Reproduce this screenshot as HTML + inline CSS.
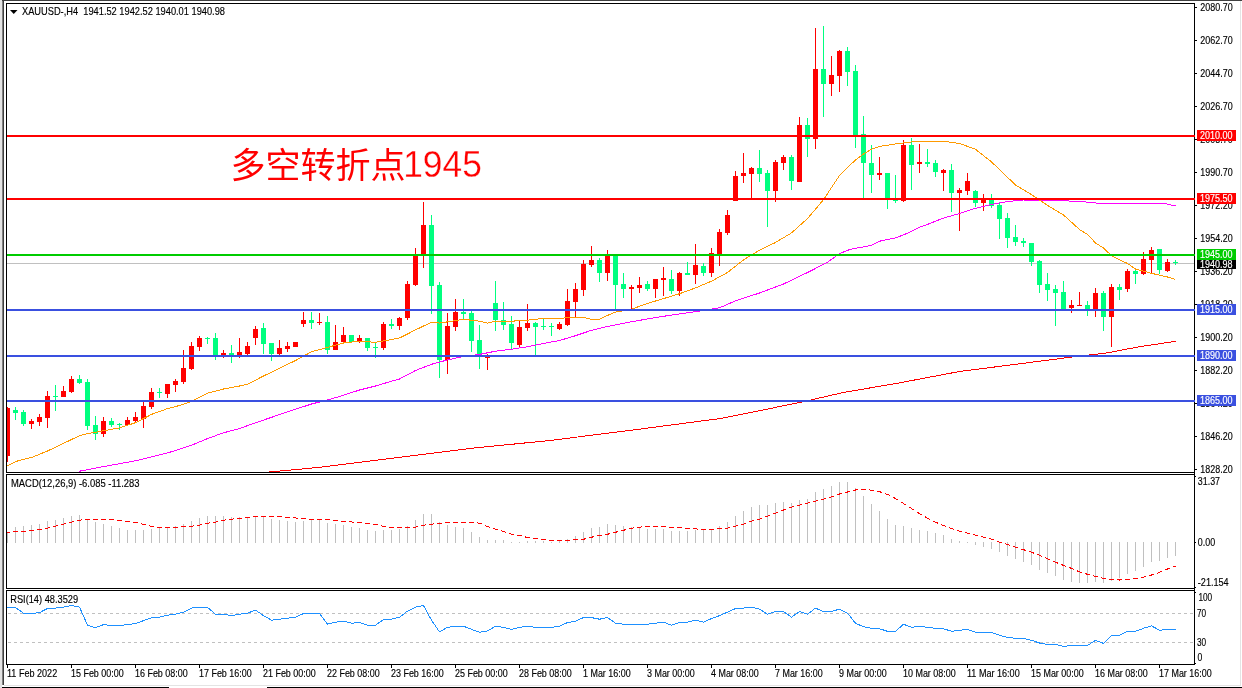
<!DOCTYPE html><html><head><meta charset="utf-8"><title>XAUUSD H4</title>
<style>html,body{margin:0;padding:0;background:#fff}svg{display:block;will-change:transform}text{font-family:"Liberation Sans","Noto Sans CJK SC",sans-serif;font-size:10.2px;fill:#000;stroke:#000;stroke-width:.15px}.w{fill:#fff;stroke:#fff;stroke-width:.15px}.big{font-size:35px;fill:#ff0000;stroke:none;font-weight:400;font-family:"Liberation Sans","Noto Sans CJK SC",sans-serif}</style></head><body>
<svg width="1242" height="688" viewBox="0 0 1242 688">
<rect x="0" y="0" width="1242" height="688" fill="#fff"/>
<g shape-rendering="crispEdges">
<rect x="0" y="0" width="2" height="688" fill="#e4e4e4"/>
<rect x="2" y="0" width="1" height="685" fill="#808080"/>
<rect x="3" y="0" width="1" height="685" fill="#404040"/>
<rect x="2" y="0" width="1240" height="1" fill="#404040"/>
<rect x="1240" y="1" width="1" height="685" fill="#e4e4e4"/>
<rect x="4" y="685" width="1237" height="1" fill="#e4e4e4"/>
<rect x="2" y="687" width="167" height="1" fill="#000"/>
<rect x="267" y="687" width="975" height="1" fill="#000"/>
<rect x="6" y="3" width="1189" height="1" fill="#000"/>
<rect x="6" y="472" width="1189" height="1" fill="#000"/>
<rect x="6" y="3" width="1" height="470" fill="#000"/>
<rect x="6" y="474" width="1189" height="1" fill="#000"/>
<rect x="6" y="588" width="1189" height="1" fill="#000"/>
<rect x="6" y="474" width="1" height="115" fill="#000"/>
<rect x="6" y="590" width="1189" height="1" fill="#000"/>
<rect x="6" y="664" width="1189" height="1" fill="#000"/>
<rect x="6" y="590" width="1" height="75" fill="#000"/>
<rect x="1194" y="3" width="1" height="662" fill="#000"/>
<rect x="1195" y="7" width="2" height="1" fill="#000"/>
<rect x="1195" y="40" width="2" height="1" fill="#000"/>
<rect x="1195" y="73" width="2" height="1" fill="#000"/>
<rect x="1195" y="106" width="2" height="1" fill="#000"/>
<rect x="1195" y="139" width="2" height="1" fill="#000"/>
<rect x="1195" y="172" width="2" height="1" fill="#000"/>
<rect x="1195" y="205" width="2" height="1" fill="#000"/>
<rect x="1195" y="238" width="2" height="1" fill="#000"/>
<rect x="1195" y="271" width="2" height="1" fill="#000"/>
<rect x="1195" y="304" width="2" height="1" fill="#000"/>
<rect x="1195" y="337" width="2" height="1" fill="#000"/>
<rect x="1195" y="370" width="2" height="1" fill="#000"/>
<rect x="1195" y="403" width="2" height="1" fill="#000"/>
<rect x="1195" y="436" width="2" height="1" fill="#000"/>
<rect x="1195" y="469" width="2" height="1" fill="#000"/>
<rect x="1195" y="476" width="1" height="1" fill="#000"/>
<rect x="1195" y="542" width="1" height="1" fill="#000"/>
<rect x="1195" y="587" width="1" height="1" fill="#000"/>
<rect x="1195" y="592" width="1" height="1" fill="#000"/>
<rect x="1195" y="663" width="1" height="1" fill="#000"/>
<rect x="7" y="665" width="1" height="3" fill="#000"/>
<rect x="71" y="665" width="1" height="3" fill="#000"/>
<rect x="135" y="665" width="1" height="3" fill="#000"/>
<rect x="199" y="665" width="1" height="3" fill="#000"/>
<rect x="263" y="665" width="1" height="3" fill="#000"/>
<rect x="327" y="665" width="1" height="3" fill="#000"/>
<rect x="391" y="665" width="1" height="3" fill="#000"/>
<rect x="455" y="665" width="1" height="3" fill="#000"/>
<rect x="519" y="665" width="1" height="3" fill="#000"/>
<rect x="583" y="665" width="1" height="3" fill="#000"/>
<rect x="647" y="665" width="1" height="3" fill="#000"/>
<rect x="711" y="665" width="1" height="3" fill="#000"/>
<rect x="775" y="665" width="1" height="3" fill="#000"/>
<rect x="839" y="665" width="1" height="3" fill="#000"/>
<rect x="903" y="665" width="1" height="3" fill="#000"/>
<rect x="967" y="665" width="1" height="3" fill="#000"/>
<rect x="1031" y="665" width="1" height="3" fill="#000"/>
<rect x="1095" y="665" width="1" height="3" fill="#000"/>
<rect x="1159" y="665" width="1" height="3" fill="#000"/>
</g>
<defs><clipPath id="c1"><rect x="7" y="4" width="1187" height="468"/></clipPath><clipPath id="c2"><rect x="7" y="475" width="1187" height="113"/></clipPath><clipPath id="c3"><rect x="7" y="591" width="1187" height="73"/></clipPath></defs>
<g shape-rendering="crispEdges" clip-path="url(#c1)">
<rect x="7" y="263" width="1187" height="1" fill="#c0c0c0"/>
<rect x="7" y="407" width="1" height="55" fill="#ff0000"/>
<rect x="5" y="408" width="5" height="48" fill="#ff0000"/>
<rect x="15" y="407" width="1" height="13" fill="#00ff7f"/>
<rect x="13" y="410" width="5" height="3" fill="#00ff7f"/>
<rect x="23" y="410" width="1" height="16" fill="#00ff7f"/>
<rect x="21" y="412" width="5" height="12" fill="#00ff7f"/>
<rect x="31" y="419" width="1" height="10" fill="#ff0000"/>
<rect x="29" y="421" width="5" height="3" fill="#ff0000"/>
<rect x="39" y="414" width="1" height="12" fill="#ff0000"/>
<rect x="37" y="417" width="5" height="5" fill="#ff0000"/>
<rect x="47" y="391" width="1" height="37" fill="#ff0000"/>
<rect x="45" y="396" width="5" height="22" fill="#ff0000"/>
<rect x="55" y="385" width="1" height="26" fill="#00ff7f"/>
<rect x="53" y="396" width="5" height="1" fill="#00ff7f"/>
<rect x="63" y="386" width="1" height="11" fill="#ff0000"/>
<rect x="61" y="391" width="5" height="6" fill="#ff0000"/>
<rect x="71" y="376" width="1" height="17" fill="#ff0000"/>
<rect x="69" y="379" width="5" height="13" fill="#ff0000"/>
<rect x="79" y="375" width="1" height="9" fill="#00ff7f"/>
<rect x="77" y="379" width="5" height="4" fill="#00ff7f"/>
<rect x="87" y="379" width="1" height="51" fill="#00ff7f"/>
<rect x="85" y="382" width="5" height="44" fill="#00ff7f"/>
<rect x="95" y="416" width="1" height="24" fill="#00ff7f"/>
<rect x="93" y="425" width="5" height="9" fill="#00ff7f"/>
<rect x="103" y="417" width="1" height="20" fill="#ff0000"/>
<rect x="101" y="421" width="5" height="13" fill="#ff0000"/>
<rect x="111" y="418" width="1" height="9" fill="#00ff7f"/>
<rect x="109" y="421" width="5" height="4" fill="#00ff7f"/>
<rect x="119" y="423" width="1" height="7" fill="#00ff7f"/>
<rect x="117" y="424" width="5" height="1" fill="#00ff7f"/>
<rect x="127" y="417" width="1" height="8" fill="#ff0000"/>
<rect x="125" y="420" width="5" height="5" fill="#ff0000"/>
<rect x="135" y="412" width="1" height="10" fill="#ff0000"/>
<rect x="133" y="417" width="5" height="4" fill="#ff0000"/>
<rect x="143" y="402" width="1" height="26" fill="#ff0000"/>
<rect x="141" y="406" width="5" height="13" fill="#ff0000"/>
<rect x="151" y="388" width="1" height="21" fill="#ff0000"/>
<rect x="149" y="392" width="5" height="15" fill="#ff0000"/>
<rect x="159" y="388" width="1" height="10" fill="#00ff7f"/>
<rect x="157" y="392" width="5" height="1" fill="#00ff7f"/>
<rect x="167" y="384" width="1" height="14" fill="#ff0000"/>
<rect x="165" y="384" width="5" height="10" fill="#ff0000"/>
<rect x="175" y="379" width="1" height="13" fill="#ff0000"/>
<rect x="173" y="381" width="5" height="4" fill="#ff0000"/>
<rect x="183" y="350" width="1" height="34" fill="#ff0000"/>
<rect x="181" y="368" width="5" height="14" fill="#ff0000"/>
<rect x="191" y="342" width="1" height="28" fill="#ff0000"/>
<rect x="189" y="346" width="5" height="23" fill="#ff0000"/>
<rect x="199" y="336" width="1" height="15" fill="#ff0000"/>
<rect x="197" y="338" width="5" height="9" fill="#ff0000"/>
<rect x="207" y="337" width="1" height="7" fill="#00ff7f"/>
<rect x="205" y="338" width="5" height="1" fill="#00ff7f"/>
<rect x="215" y="333" width="1" height="27" fill="#00ff7f"/>
<rect x="213" y="338" width="5" height="17" fill="#00ff7f"/>
<rect x="223" y="350" width="1" height="8" fill="#ff0000"/>
<rect x="221" y="353" width="5" height="2" fill="#ff0000"/>
<rect x="231" y="345" width="1" height="18" fill="#00ff7f"/>
<rect x="229" y="353" width="5" height="2" fill="#00ff7f"/>
<rect x="239" y="338" width="1" height="20" fill="#ff0000"/>
<rect x="237" y="352" width="5" height="3" fill="#ff0000"/>
<rect x="247" y="342" width="1" height="13" fill="#ff0000"/>
<rect x="245" y="346" width="5" height="8" fill="#ff0000"/>
<rect x="255" y="326" width="1" height="19" fill="#ff0000"/>
<rect x="253" y="329" width="5" height="9" fill="#ff0000"/>
<rect x="263" y="323" width="1" height="31" fill="#00ff7f"/>
<rect x="261" y="328" width="5" height="16" fill="#00ff7f"/>
<rect x="271" y="343" width="1" height="18" fill="#00ff7f"/>
<rect x="269" y="343" width="5" height="11" fill="#00ff7f"/>
<rect x="279" y="340" width="1" height="15" fill="#ff0000"/>
<rect x="277" y="348" width="5" height="6" fill="#ff0000"/>
<rect x="287" y="342" width="1" height="10" fill="#ff0000"/>
<rect x="285" y="346" width="5" height="3" fill="#ff0000"/>
<rect x="295" y="342" width="1" height="5" fill="#ff0000"/>
<rect x="293" y="342" width="5" height="5" fill="#ff0000"/>
<rect x="303" y="312" width="1" height="15" fill="#ff0000"/>
<rect x="301" y="320" width="5" height="4" fill="#ff0000"/>
<rect x="311" y="312" width="1" height="17" fill="#00ff7f"/>
<rect x="309" y="320" width="5" height="3" fill="#00ff7f"/>
<rect x="319" y="313" width="1" height="12" fill="#ff0000"/>
<rect x="317" y="322" width="5" height="1" fill="#ff0000"/>
<rect x="327" y="316" width="1" height="38" fill="#00ff7f"/>
<rect x="325" y="322" width="5" height="28" fill="#00ff7f"/>
<rect x="335" y="325" width="1" height="25" fill="#ff0000"/>
<rect x="333" y="342" width="5" height="8" fill="#ff0000"/>
<rect x="343" y="327" width="1" height="16" fill="#ff0000"/>
<rect x="341" y="335" width="5" height="7" fill="#ff0000"/>
<rect x="351" y="335" width="1" height="7" fill="#00ff7f"/>
<rect x="349" y="335" width="5" height="7" fill="#00ff7f"/>
<rect x="359" y="335" width="1" height="8" fill="#ff0000"/>
<rect x="357" y="338" width="5" height="3" fill="#ff0000"/>
<rect x="367" y="338" width="1" height="13" fill="#00ff7f"/>
<rect x="365" y="338" width="5" height="10" fill="#00ff7f"/>
<rect x="375" y="343" width="1" height="15" fill="#00ff7f"/>
<rect x="373" y="347" width="5" height="1" fill="#00ff7f"/>
<rect x="383" y="322" width="1" height="28" fill="#ff0000"/>
<rect x="381" y="324" width="5" height="24" fill="#ff0000"/>
<rect x="391" y="319" width="1" height="10" fill="#00ff7f"/>
<rect x="389" y="324" width="5" height="2" fill="#00ff7f"/>
<rect x="399" y="317" width="1" height="13" fill="#ff0000"/>
<rect x="397" y="318" width="5" height="8" fill="#ff0000"/>
<rect x="407" y="281" width="1" height="39" fill="#ff0000"/>
<rect x="405" y="284" width="5" height="34" fill="#ff0000"/>
<rect x="415" y="248" width="1" height="38" fill="#ff0000"/>
<rect x="413" y="256" width="5" height="29" fill="#ff0000"/>
<rect x="423" y="202" width="1" height="66" fill="#ff0000"/>
<rect x="421" y="225" width="5" height="30" fill="#ff0000"/>
<rect x="431" y="215" width="1" height="99" fill="#00ff7f"/>
<rect x="429" y="225" width="5" height="61" fill="#00ff7f"/>
<rect x="439" y="282" width="1" height="96" fill="#00ff7f"/>
<rect x="437" y="285" width="5" height="75" fill="#00ff7f"/>
<rect x="447" y="313" width="1" height="61" fill="#ff0000"/>
<rect x="445" y="326" width="5" height="34" fill="#ff0000"/>
<rect x="455" y="299" width="1" height="32" fill="#ff0000"/>
<rect x="453" y="312" width="5" height="15" fill="#ff0000"/>
<rect x="463" y="299" width="1" height="20" fill="#00ff7f"/>
<rect x="461" y="312" width="5" height="2" fill="#00ff7f"/>
<rect x="471" y="311" width="1" height="41" fill="#00ff7f"/>
<rect x="469" y="313" width="5" height="28" fill="#00ff7f"/>
<rect x="479" y="325" width="1" height="44" fill="#00ff7f"/>
<rect x="477" y="340" width="5" height="17" fill="#00ff7f"/>
<rect x="487" y="354" width="1" height="16" fill="#ff0000"/>
<rect x="485" y="357" width="5" height="1" fill="#ff0000"/>
<rect x="495" y="281" width="1" height="50" fill="#00ff7f"/>
<rect x="493" y="303" width="5" height="17" fill="#00ff7f"/>
<rect x="503" y="302" width="1" height="28" fill="#00ff7f"/>
<rect x="501" y="320" width="5" height="5" fill="#00ff7f"/>
<rect x="511" y="316" width="1" height="34" fill="#00ff7f"/>
<rect x="509" y="324" width="5" height="19" fill="#00ff7f"/>
<rect x="519" y="321" width="1" height="27" fill="#ff0000"/>
<rect x="517" y="327" width="5" height="18" fill="#ff0000"/>
<rect x="527" y="304" width="1" height="27" fill="#ff0000"/>
<rect x="525" y="323" width="5" height="5" fill="#ff0000"/>
<rect x="535" y="322" width="1" height="33" fill="#00ff7f"/>
<rect x="533" y="323" width="5" height="4" fill="#00ff7f"/>
<rect x="543" y="319" width="1" height="11" fill="#00ff7f"/>
<rect x="541" y="326" width="5" height="1" fill="#00ff7f"/>
<rect x="551" y="323" width="1" height="13" fill="#00ff7f"/>
<rect x="549" y="326" width="5" height="1" fill="#00ff7f"/>
<rect x="559" y="322" width="1" height="8" fill="#ff0000"/>
<rect x="557" y="324" width="5" height="5" fill="#ff0000"/>
<rect x="567" y="289" width="1" height="37" fill="#ff0000"/>
<rect x="565" y="301" width="5" height="24" fill="#ff0000"/>
<rect x="575" y="283" width="1" height="34" fill="#ff0000"/>
<rect x="573" y="289" width="5" height="13" fill="#ff0000"/>
<rect x="583" y="260" width="1" height="36" fill="#ff0000"/>
<rect x="581" y="264" width="5" height="26" fill="#ff0000"/>
<rect x="591" y="246" width="1" height="21" fill="#ff0000"/>
<rect x="589" y="260" width="5" height="5" fill="#ff0000"/>
<rect x="599" y="258" width="1" height="24" fill="#00ff7f"/>
<rect x="597" y="260" width="5" height="13" fill="#00ff7f"/>
<rect x="607" y="250" width="1" height="31" fill="#ff0000"/>
<rect x="605" y="256" width="5" height="17" fill="#ff0000"/>
<rect x="615" y="256" width="1" height="55" fill="#00ff7f"/>
<rect x="613" y="256" width="5" height="29" fill="#00ff7f"/>
<rect x="623" y="273" width="1" height="25" fill="#00ff7f"/>
<rect x="621" y="284" width="5" height="5" fill="#00ff7f"/>
<rect x="631" y="285" width="1" height="24" fill="#ff0000"/>
<rect x="629" y="287" width="5" height="2" fill="#ff0000"/>
<rect x="639" y="277" width="1" height="16" fill="#ff0000"/>
<rect x="637" y="285" width="5" height="3" fill="#ff0000"/>
<rect x="647" y="281" width="1" height="10" fill="#00ff7f"/>
<rect x="645" y="284" width="5" height="5" fill="#00ff7f"/>
<rect x="655" y="279" width="1" height="19" fill="#ff0000"/>
<rect x="653" y="279" width="5" height="10" fill="#ff0000"/>
<rect x="663" y="267" width="1" height="29" fill="#ff0000"/>
<rect x="661" y="278" width="5" height="2" fill="#ff0000"/>
<rect x="671" y="270" width="1" height="24" fill="#00ff7f"/>
<rect x="669" y="279" width="5" height="12" fill="#00ff7f"/>
<rect x="679" y="272" width="1" height="24" fill="#ff0000"/>
<rect x="677" y="273" width="5" height="18" fill="#ff0000"/>
<rect x="687" y="262" width="1" height="13" fill="#00ff7f"/>
<rect x="685" y="273" width="5" height="2" fill="#00ff7f"/>
<rect x="695" y="244" width="1" height="40" fill="#ff0000"/>
<rect x="693" y="265" width="5" height="10" fill="#ff0000"/>
<rect x="703" y="263" width="1" height="13" fill="#00ff7f"/>
<rect x="701" y="266" width="5" height="7" fill="#00ff7f"/>
<rect x="711" y="248" width="1" height="29" fill="#ff0000"/>
<rect x="709" y="253" width="5" height="20" fill="#ff0000"/>
<rect x="719" y="229" width="1" height="37" fill="#ff0000"/>
<rect x="717" y="232" width="5" height="22" fill="#ff0000"/>
<rect x="727" y="210" width="1" height="25" fill="#ff0000"/>
<rect x="725" y="215" width="5" height="18" fill="#ff0000"/>
<rect x="735" y="171" width="1" height="30" fill="#ff0000"/>
<rect x="733" y="176" width="5" height="25" fill="#ff0000"/>
<rect x="743" y="153" width="1" height="30" fill="#ff0000"/>
<rect x="741" y="173" width="5" height="3" fill="#ff0000"/>
<rect x="751" y="167" width="1" height="32" fill="#ff0000"/>
<rect x="749" y="168" width="5" height="6" fill="#ff0000"/>
<rect x="759" y="150" width="1" height="32" fill="#00ff7f"/>
<rect x="757" y="168" width="5" height="6" fill="#00ff7f"/>
<rect x="767" y="170" width="1" height="57" fill="#00ff7f"/>
<rect x="765" y="173" width="5" height="18" fill="#00ff7f"/>
<rect x="775" y="160" width="1" height="42" fill="#ff0000"/>
<rect x="773" y="162" width="5" height="29" fill="#ff0000"/>
<rect x="783" y="155" width="1" height="15" fill="#ff0000"/>
<rect x="781" y="157" width="5" height="6" fill="#ff0000"/>
<rect x="791" y="155" width="1" height="35" fill="#00ff7f"/>
<rect x="789" y="157" width="5" height="24" fill="#00ff7f"/>
<rect x="799" y="117" width="1" height="65" fill="#ff0000"/>
<rect x="797" y="125" width="5" height="57" fill="#ff0000"/>
<rect x="807" y="118" width="1" height="39" fill="#00ff7f"/>
<rect x="805" y="125" width="5" height="14" fill="#00ff7f"/>
<rect x="815" y="28" width="1" height="121" fill="#ff0000"/>
<rect x="813" y="69" width="5" height="70" fill="#ff0000"/>
<rect x="823" y="26" width="1" height="91" fill="#00ff7f"/>
<rect x="821" y="69" width="5" height="15" fill="#00ff7f"/>
<rect x="831" y="56" width="1" height="40" fill="#ff0000"/>
<rect x="829" y="75" width="5" height="9" fill="#ff0000"/>
<rect x="839" y="50" width="1" height="42" fill="#ff0000"/>
<rect x="837" y="51" width="5" height="25" fill="#ff0000"/>
<rect x="847" y="47" width="1" height="39" fill="#00ff7f"/>
<rect x="845" y="51" width="5" height="21" fill="#00ff7f"/>
<rect x="855" y="65" width="1" height="83" fill="#00ff7f"/>
<rect x="853" y="71" width="5" height="64" fill="#00ff7f"/>
<rect x="863" y="116" width="1" height="82" fill="#00ff7f"/>
<rect x="861" y="134" width="5" height="29" fill="#00ff7f"/>
<rect x="871" y="145" width="1" height="48" fill="#00ff7f"/>
<rect x="869" y="163" width="5" height="12" fill="#00ff7f"/>
<rect x="879" y="157" width="1" height="23" fill="#ff0000"/>
<rect x="877" y="173" width="5" height="2" fill="#ff0000"/>
<rect x="887" y="173" width="1" height="36" fill="#00ff7f"/>
<rect x="885" y="173" width="5" height="25" fill="#00ff7f"/>
<rect x="895" y="175" width="1" height="28" fill="#00ff7f"/>
<rect x="893" y="200" width="5" height="1" fill="#00ff7f"/>
<rect x="903" y="140" width="1" height="62" fill="#ff0000"/>
<rect x="901" y="145" width="5" height="56" fill="#ff0000"/>
<rect x="911" y="138" width="1" height="52" fill="#00ff7f"/>
<rect x="909" y="145" width="5" height="20" fill="#00ff7f"/>
<rect x="919" y="144" width="1" height="29" fill="#ff0000"/>
<rect x="917" y="162" width="5" height="2" fill="#ff0000"/>
<rect x="927" y="149" width="1" height="18" fill="#00ff7f"/>
<rect x="925" y="162" width="5" height="2" fill="#00ff7f"/>
<rect x="935" y="160" width="1" height="17" fill="#00ff7f"/>
<rect x="933" y="163" width="5" height="9" fill="#00ff7f"/>
<rect x="943" y="169" width="1" height="22" fill="#ff0000"/>
<rect x="941" y="170" width="5" height="3" fill="#ff0000"/>
<rect x="951" y="164" width="1" height="48" fill="#00ff7f"/>
<rect x="949" y="170" width="5" height="23" fill="#00ff7f"/>
<rect x="959" y="188" width="1" height="43" fill="#ff0000"/>
<rect x="957" y="190" width="5" height="3" fill="#ff0000"/>
<rect x="967" y="173" width="1" height="22" fill="#ff0000"/>
<rect x="965" y="181" width="5" height="10" fill="#ff0000"/>
<rect x="975" y="190" width="1" height="17" fill="#00ff7f"/>
<rect x="973" y="191" width="5" height="12" fill="#00ff7f"/>
<rect x="983" y="194" width="1" height="17" fill="#ff0000"/>
<rect x="981" y="199" width="5" height="4" fill="#ff0000"/>
<rect x="991" y="194" width="1" height="14" fill="#00ff7f"/>
<rect x="989" y="199" width="5" height="7" fill="#00ff7f"/>
<rect x="999" y="203" width="1" height="36" fill="#00ff7f"/>
<rect x="997" y="205" width="5" height="14" fill="#00ff7f"/>
<rect x="1007" y="213" width="1" height="35" fill="#00ff7f"/>
<rect x="1005" y="218" width="5" height="20" fill="#00ff7f"/>
<rect x="1015" y="225" width="1" height="21" fill="#00ff7f"/>
<rect x="1013" y="237" width="5" height="5" fill="#00ff7f"/>
<rect x="1023" y="238" width="1" height="9" fill="#00ff7f"/>
<rect x="1021" y="241" width="5" height="2" fill="#00ff7f"/>
<rect x="1031" y="243" width="1" height="23" fill="#00ff7f"/>
<rect x="1029" y="243" width="5" height="19" fill="#00ff7f"/>
<rect x="1039" y="260" width="1" height="33" fill="#00ff7f"/>
<rect x="1037" y="261" width="5" height="24" fill="#00ff7f"/>
<rect x="1047" y="273" width="1" height="28" fill="#00ff7f"/>
<rect x="1045" y="284" width="5" height="6" fill="#00ff7f"/>
<rect x="1055" y="285" width="1" height="41" fill="#00ff7f"/>
<rect x="1053" y="289" width="5" height="4" fill="#00ff7f"/>
<rect x="1063" y="281" width="1" height="28" fill="#00ff7f"/>
<rect x="1061" y="292" width="5" height="17" fill="#00ff7f"/>
<rect x="1071" y="300" width="1" height="13" fill="#ff0000"/>
<rect x="1069" y="305" width="5" height="3" fill="#ff0000"/>
<rect x="1079" y="292" width="1" height="14" fill="#ff0000"/>
<rect x="1077" y="305" width="5" height="1" fill="#ff0000"/>
<rect x="1087" y="301" width="1" height="15" fill="#00ff7f"/>
<rect x="1085" y="305" width="5" height="5" fill="#00ff7f"/>
<rect x="1095" y="288" width="1" height="29" fill="#ff0000"/>
<rect x="1093" y="293" width="5" height="17" fill="#ff0000"/>
<rect x="1103" y="291" width="1" height="40" fill="#00ff7f"/>
<rect x="1101" y="293" width="5" height="24" fill="#00ff7f"/>
<rect x="1111" y="284" width="1" height="63" fill="#ff0000"/>
<rect x="1109" y="287" width="5" height="30" fill="#ff0000"/>
<rect x="1119" y="284" width="1" height="16" fill="#00ff7f"/>
<rect x="1117" y="287" width="5" height="3" fill="#00ff7f"/>
<rect x="1127" y="269" width="1" height="23" fill="#ff0000"/>
<rect x="1125" y="271" width="5" height="18" fill="#ff0000"/>
<rect x="1135" y="269" width="1" height="15" fill="#00ff7f"/>
<rect x="1133" y="271" width="5" height="3" fill="#00ff7f"/>
<rect x="1143" y="252" width="1" height="23" fill="#ff0000"/>
<rect x="1141" y="259" width="5" height="15" fill="#ff0000"/>
<rect x="1151" y="247" width="1" height="26" fill="#ff0000"/>
<rect x="1149" y="250" width="5" height="10" fill="#ff0000"/>
<rect x="1159" y="249" width="1" height="25" fill="#00ff7f"/>
<rect x="1157" y="249" width="5" height="21" fill="#00ff7f"/>
<rect x="1167" y="259" width="1" height="13" fill="#ff0000"/>
<rect x="1165" y="262" width="5" height="9" fill="#ff0000"/>
<rect x="1175" y="260" width="1" height="5" fill="#00ff7f"/>
<rect x="1173" y="262" width="5" height="1" fill="#00ff7f"/>
</g>
<polyline points="267.5,472.2 317.8,467.5 395.1,457.9 472.4,448.2 549.7,440.5 627.0,430.8 720.5,418.5 759.1,410.8 805.5,401.2 844.2,392.3 894.4,383.8 960.1,371.4 1029.7,362.5 1068.3,357.5 1107.0,352.9 1137.9,347.0 1175.5,341.3" fill="none" stroke="#ff0000" stroke-width="1" shape-rendering="crispEdges" clip-path="url(#c1)"/>
<polyline points="78.5,471.4 103.5,466.6 135.5,460.8 167.5,453.0 191.5,445.3 207.5,438.6 223.5,432.8 239.5,428.5 254.9,423.0 279.5,414.6 311.5,404.0 327.5,400.0 343.5,395.3 359.5,390.0 375.5,386.0 391.5,381.2 399.5,379.0 415.5,370.5 431.5,364.3 447.5,359.9 463.5,356.4 479.5,354.4 495.5,351.2 511.5,349.2 527.5,346.7 543.5,343.4 559.5,340.5 575.5,335.7 591.5,330.3 607.5,326.5 631.5,321.7 663.5,316.3 695.5,311.7 719.5,307.8 735.5,300.9 759.5,293.0 783.5,284.0 807.5,272.5 826.5,262.9 839.3,253.9 847.1,250.4 854.8,248.3 865.2,246.7 871.7,245.2 880.7,240.9 896.2,237.7 909.2,232.5 919.5,227.3 929.9,223.5 942.8,218.3 959.5,213.5 975.5,208.3 991.5,204.4 1007.5,201.5 1023.5,200.0 1039.5,200.0 1059.5,200.5 1084.5,201.9 1100.2,203.4 1163.5,203.4 1169.5,204.6 1175.5,206.0" fill="none" stroke="#ff00ff" stroke-width="1" shape-rendering="crispEdges" clip-path="url(#c1)"/>
<polyline points="7.5,465.6 17.9,460.8 31.5,457.5 47.5,451.0 63.5,443.4 79.5,435.7 87.5,433.7 103.5,430.8 119.5,427.9 135.5,422.7 151.5,414.4 167.5,408.6 175.5,406.7 191.5,401.4 207.5,393.2 223.5,389.0 239.5,386.0 247.5,384.3 263.5,376.0 279.5,368.3 295.5,360.5 311.5,351.8 327.5,347.4 343.5,343.0 359.5,341.2 375.5,342.3 391.5,339.5 399.5,338.0 407.5,334.0 415.5,329.9 431.5,322.2 439.5,323.1 455.5,320.6 463.5,319.3 479.5,321.2 487.5,323.1 495.5,321.2 511.5,321.2 527.5,320.2 543.5,318.3 559.5,318.3 575.5,317.3 583.5,317.3 591.5,319.3 599.5,319.3 607.5,315.4 615.5,312.1 631.5,309.2 647.5,303.4 663.5,298.6 679.5,293.7 695.5,287.9 711.5,281.2 727.5,272.5 743.5,259.9 759.5,250.2 775.5,242.5 791.5,232.9 807.5,218.6 823.5,199.7 839.5,175.4 855.5,159.9 863.5,154.0 871.5,149.3 879.5,146.4 895.5,144.0 911.5,142.0 927.5,141.5 943.5,141.2 959.5,143.5 975.5,149.3 991.5,161.9 1007.5,177.3 1015.5,185.0 1031.5,194.7 1047.5,205.4 1063.5,215.0 1079.5,229.5 1088.0,234.7 1095.5,243.0 1103.5,248.0 1111.5,255.6 1119.5,259.8 1127.5,263.5 1135.5,269.0 1151.5,273.3 1167.5,277.0 1175.5,279.5" fill="none" stroke="#ff9a00" stroke-width="1" shape-rendering="crispEdges" clip-path="url(#c1)"/>
<g shape-rendering="crispEdges">
<rect x="7" y="135" width="1188" height="2" fill="#ff0000"/>
<rect x="7" y="198" width="1188" height="2" fill="#ff0000"/>
<rect x="7" y="254" width="1188" height="2" fill="#00cc00"/>
<rect x="7" y="309" width="1188" height="2" fill="#3a50e0"/>
<rect x="7" y="355" width="1188" height="2" fill="#3a50e0"/>
<rect x="7" y="400" width="1188" height="2" fill="#3a50e0"/>
</g>
<g shape-rendering="crispEdges" clip-path="url(#c2)">
<rect x="7" y="532" width="1" height="11" fill="#c0c0c0"/>
<rect x="15" y="527" width="1" height="16" fill="#c0c0c0"/>
<rect x="23" y="526" width="1" height="17" fill="#c0c0c0"/>
<rect x="31" y="525" width="1" height="18" fill="#c0c0c0"/>
<rect x="39" y="524" width="1" height="19" fill="#c0c0c0"/>
<rect x="47" y="521" width="1" height="22" fill="#c0c0c0"/>
<rect x="55" y="520" width="1" height="23" fill="#c0c0c0"/>
<rect x="63" y="518" width="1" height="25" fill="#c0c0c0"/>
<rect x="71" y="516" width="1" height="27" fill="#c0c0c0"/>
<rect x="79" y="515" width="1" height="28" fill="#c0c0c0"/>
<rect x="87" y="519" width="1" height="24" fill="#c0c0c0"/>
<rect x="95" y="522" width="1" height="21" fill="#c0c0c0"/>
<rect x="103" y="524" width="1" height="19" fill="#c0c0c0"/>
<rect x="111" y="526" width="1" height="17" fill="#c0c0c0"/>
<rect x="119" y="528" width="1" height="15" fill="#c0c0c0"/>
<rect x="127" y="530" width="1" height="13" fill="#c0c0c0"/>
<rect x="135" y="530" width="1" height="13" fill="#c0c0c0"/>
<rect x="143" y="530" width="1" height="13" fill="#c0c0c0"/>
<rect x="151" y="529" width="1" height="14" fill="#c0c0c0"/>
<rect x="159" y="528" width="1" height="15" fill="#c0c0c0"/>
<rect x="167" y="527" width="1" height="16" fill="#c0c0c0"/>
<rect x="175" y="526" width="1" height="17" fill="#c0c0c0"/>
<rect x="183" y="524" width="1" height="19" fill="#c0c0c0"/>
<rect x="191" y="521" width="1" height="22" fill="#c0c0c0"/>
<rect x="199" y="518" width="1" height="25" fill="#c0c0c0"/>
<rect x="207" y="516" width="1" height="27" fill="#c0c0c0"/>
<rect x="215" y="516" width="1" height="27" fill="#c0c0c0"/>
<rect x="223" y="516" width="1" height="27" fill="#c0c0c0"/>
<rect x="231" y="517" width="1" height="26" fill="#c0c0c0"/>
<rect x="239" y="517" width="1" height="26" fill="#c0c0c0"/>
<rect x="247" y="517" width="1" height="26" fill="#c0c0c0"/>
<rect x="255" y="516" width="1" height="27" fill="#c0c0c0"/>
<rect x="263" y="517" width="1" height="26" fill="#c0c0c0"/>
<rect x="271" y="519" width="1" height="24" fill="#c0c0c0"/>
<rect x="279" y="520" width="1" height="23" fill="#c0c0c0"/>
<rect x="287" y="521" width="1" height="22" fill="#c0c0c0"/>
<rect x="295" y="522" width="1" height="21" fill="#c0c0c0"/>
<rect x="303" y="521" width="1" height="22" fill="#c0c0c0"/>
<rect x="311" y="520" width="1" height="23" fill="#c0c0c0"/>
<rect x="319" y="520" width="1" height="23" fill="#c0c0c0"/>
<rect x="327" y="523" width="1" height="20" fill="#c0c0c0"/>
<rect x="335" y="524" width="1" height="19" fill="#c0c0c0"/>
<rect x="343" y="525" width="1" height="18" fill="#c0c0c0"/>
<rect x="351" y="527" width="1" height="16" fill="#c0c0c0"/>
<rect x="359" y="528" width="1" height="15" fill="#c0c0c0"/>
<rect x="367" y="530" width="1" height="13" fill="#c0c0c0"/>
<rect x="375" y="531" width="1" height="12" fill="#c0c0c0"/>
<rect x="383" y="530" width="1" height="13" fill="#c0c0c0"/>
<rect x="391" y="530" width="1" height="13" fill="#c0c0c0"/>
<rect x="399" y="529" width="1" height="14" fill="#c0c0c0"/>
<rect x="407" y="526" width="1" height="17" fill="#c0c0c0"/>
<rect x="415" y="520" width="1" height="23" fill="#c0c0c0"/>
<rect x="423" y="514" width="1" height="29" fill="#c0c0c0"/>
<rect x="431" y="514" width="1" height="29" fill="#c0c0c0"/>
<rect x="439" y="522" width="1" height="21" fill="#c0c0c0"/>
<rect x="447" y="525" width="1" height="18" fill="#c0c0c0"/>
<rect x="455" y="527" width="1" height="16" fill="#c0c0c0"/>
<rect x="463" y="528" width="1" height="15" fill="#c0c0c0"/>
<rect x="471" y="532" width="1" height="11" fill="#c0c0c0"/>
<rect x="479" y="537" width="1" height="6" fill="#c0c0c0"/>
<rect x="487" y="540" width="1" height="3" fill="#c0c0c0"/>
<rect x="495" y="540" width="1" height="3" fill="#c0c0c0"/>
<rect x="503" y="540" width="1" height="3" fill="#c0c0c0"/>
<rect x="511" y="542" width="1" height="1" fill="#c0c0c0"/>
<rect x="519" y="542" width="1" height="1" fill="#c0c0c0"/>
<rect x="527" y="541" width="1" height="2" fill="#c0c0c0"/>
<rect x="535" y="541" width="1" height="2" fill="#c0c0c0"/>
<rect x="543" y="541" width="1" height="2" fill="#c0c0c0"/>
<rect x="551" y="542" width="1" height="1" fill="#c0c0c0"/>
<rect x="559" y="541" width="1" height="2" fill="#c0c0c0"/>
<rect x="567" y="539" width="1" height="4" fill="#c0c0c0"/>
<rect x="575" y="536" width="1" height="7" fill="#c0c0c0"/>
<rect x="583" y="532" width="1" height="11" fill="#c0c0c0"/>
<rect x="591" y="528" width="1" height="15" fill="#c0c0c0"/>
<rect x="599" y="527" width="1" height="16" fill="#c0c0c0"/>
<rect x="607" y="524" width="1" height="19" fill="#c0c0c0"/>
<rect x="615" y="525" width="1" height="18" fill="#c0c0c0"/>
<rect x="623" y="526" width="1" height="17" fill="#c0c0c0"/>
<rect x="631" y="527" width="1" height="16" fill="#c0c0c0"/>
<rect x="639" y="528" width="1" height="15" fill="#c0c0c0"/>
<rect x="647" y="529" width="1" height="14" fill="#c0c0c0"/>
<rect x="655" y="529" width="1" height="14" fill="#c0c0c0"/>
<rect x="663" y="529" width="1" height="14" fill="#c0c0c0"/>
<rect x="671" y="531" width="1" height="12" fill="#c0c0c0"/>
<rect x="679" y="531" width="1" height="12" fill="#c0c0c0"/>
<rect x="687" y="531" width="1" height="12" fill="#c0c0c0"/>
<rect x="695" y="530" width="1" height="13" fill="#c0c0c0"/>
<rect x="703" y="530" width="1" height="13" fill="#c0c0c0"/>
<rect x="711" y="530" width="1" height="13" fill="#c0c0c0"/>
<rect x="719" y="526" width="1" height="17" fill="#c0c0c0"/>
<rect x="727" y="522" width="1" height="21" fill="#c0c0c0"/>
<rect x="735" y="516" width="1" height="27" fill="#c0c0c0"/>
<rect x="743" y="511" width="1" height="32" fill="#c0c0c0"/>
<rect x="751" y="507" width="1" height="36" fill="#c0c0c0"/>
<rect x="759" y="505" width="1" height="38" fill="#c0c0c0"/>
<rect x="767" y="505" width="1" height="38" fill="#c0c0c0"/>
<rect x="775" y="503" width="1" height="40" fill="#c0c0c0"/>
<rect x="783" y="502" width="1" height="41" fill="#c0c0c0"/>
<rect x="791" y="503" width="1" height="40" fill="#c0c0c0"/>
<rect x="799" y="500" width="1" height="43" fill="#c0c0c0"/>
<rect x="807" y="499" width="1" height="44" fill="#c0c0c0"/>
<rect x="815" y="492" width="1" height="51" fill="#c0c0c0"/>
<rect x="823" y="489" width="1" height="54" fill="#c0c0c0"/>
<rect x="831" y="486" width="1" height="57" fill="#c0c0c0"/>
<rect x="839" y="482" width="1" height="61" fill="#c0c0c0"/>
<rect x="847" y="482" width="1" height="61" fill="#c0c0c0"/>
<rect x="855" y="488" width="1" height="55" fill="#c0c0c0"/>
<rect x="863" y="496" width="1" height="47" fill="#c0c0c0"/>
<rect x="871" y="504" width="1" height="39" fill="#c0c0c0"/>
<rect x="879" y="511" width="1" height="32" fill="#c0c0c0"/>
<rect x="887" y="519" width="1" height="24" fill="#c0c0c0"/>
<rect x="895" y="525" width="1" height="18" fill="#c0c0c0"/>
<rect x="903" y="526" width="1" height="17" fill="#c0c0c0"/>
<rect x="911" y="528" width="1" height="15" fill="#c0c0c0"/>
<rect x="919" y="530" width="1" height="13" fill="#c0c0c0"/>
<rect x="927" y="531" width="1" height="12" fill="#c0c0c0"/>
<rect x="935" y="533" width="1" height="10" fill="#c0c0c0"/>
<rect x="943" y="535" width="1" height="8" fill="#c0c0c0"/>
<rect x="951" y="539" width="1" height="4" fill="#c0c0c0"/>
<rect x="959" y="541" width="1" height="2" fill="#c0c0c0"/>
<rect x="967" y="542" width="1" height="1" fill="#c0c0c0"/>
<rect x="975" y="542" width="1" height="3" fill="#c0c0c0"/>
<rect x="983" y="542" width="1" height="5" fill="#c0c0c0"/>
<rect x="991" y="542" width="1" height="7" fill="#c0c0c0"/>
<rect x="999" y="542" width="1" height="10" fill="#c0c0c0"/>
<rect x="1007" y="542" width="1" height="14" fill="#c0c0c0"/>
<rect x="1015" y="542" width="1" height="17" fill="#c0c0c0"/>
<rect x="1023" y="542" width="1" height="20" fill="#c0c0c0"/>
<rect x="1031" y="542" width="1" height="23" fill="#c0c0c0"/>
<rect x="1039" y="542" width="1" height="28" fill="#c0c0c0"/>
<rect x="1047" y="542" width="1" height="31" fill="#c0c0c0"/>
<rect x="1055" y="542" width="1" height="34" fill="#c0c0c0"/>
<rect x="1063" y="542" width="1" height="38" fill="#c0c0c0"/>
<rect x="1071" y="542" width="1" height="40" fill="#c0c0c0"/>
<rect x="1079" y="542" width="1" height="41" fill="#c0c0c0"/>
<rect x="1087" y="542" width="1" height="41" fill="#c0c0c0"/>
<rect x="1095" y="542" width="1" height="40" fill="#c0c0c0"/>
<rect x="1103" y="542" width="1" height="41" fill="#c0c0c0"/>
<rect x="1111" y="542" width="1" height="39" fill="#c0c0c0"/>
<rect x="1119" y="542" width="1" height="36" fill="#c0c0c0"/>
<rect x="1127" y="542" width="1" height="32" fill="#c0c0c0"/>
<rect x="1135" y="542" width="1" height="29" fill="#c0c0c0"/>
<rect x="1143" y="542" width="1" height="25" fill="#c0c0c0"/>
<rect x="1151" y="542" width="1" height="20" fill="#c0c0c0"/>
<rect x="1159" y="542" width="1" height="19" fill="#c0c0c0"/>
<rect x="1167" y="542" width="1" height="16" fill="#c0c0c0"/>
<rect x="1175" y="542" width="1" height="14" fill="#c0c0c0"/>
</g>
<g clip-path="url(#c2)" shape-rendering="crispEdges" stroke="#ff0000" stroke-width="1" fill="none">
<polyline points="7,532.4 8.5,532.3 10,532.2"/>
<polyline points="13,532.0 15.5,531.9 18,531.7"/>
<polyline points="21,531.5 23.5,531.3 26,531.0"/>
<polyline points="29,530.6 31.5,530.3 34,530.0"/>
<polyline points="37,529.6 39.5,529.3 42,529.0"/>
<polyline points="45,528.6 47.5,528.2 50,527.5"/>
<polyline points="53,526.8 55.5,526.2 58,525.5"/>
<polyline points="61,524.8 63.5,524.2 66,523.5"/>
<polyline points="69,522.8 71.5,522.2 74,521.5"/>
<polyline points="77,520.8 79.5,520.2 82,519.9"/>
<polyline points="85,519.5 87.5,519.3 90,519.3"/>
<polyline points="93,519.3 95.5,519.3 98,519.3"/>
<polyline points="101,519.3 103.5,519.3 106,519.5"/>
<polyline points="109,519.7 111.5,519.8 114,520.0"/>
<polyline points="117,520.2 119.5,520.4 122,520.7"/>
<polyline points="125,521.0 127.5,521.4 130,521.7"/>
<polyline points="133,522.0 135.5,522.4 138,523.0"/>
<polyline points="141,523.8 143.5,524.4 146,525.0"/>
<polyline points="149,525.8 151.5,526.4 154,526.7"/>
<polyline points="157,527.0 159.5,527.3 162,527.3"/>
<polyline points="165,527.3 167.5,527.3 170,527.3"/>
<polyline points="173,527.3 175.5,527.3 178,527.1"/>
<polyline points="181,526.9 183.5,526.8 186,526.6"/>
<polyline points="189,526.4 191.5,526.2 194,525.9"/>
<polyline points="197,525.5 199.5,525.2 202,524.5"/>
<polyline points="205,523.8 207.5,523.2 210,522.9"/>
<polyline points="213,522.5 215.5,522.2 218,521.5"/>
<polyline points="221,520.8 223.5,520.2 226,519.9"/>
<polyline points="229,519.5 231.5,519.2 234,518.9"/>
<polyline points="237,518.5 239.5,518.2 242,518.0"/>
<polyline points="245,517.7 247.5,517.5 250,517.2"/>
<polyline points="253,516.9 255.5,516.7 258,516.7"/>
<polyline points="261,516.7 263.5,516.7 266,516.7"/>
<polyline points="269,516.7 271.5,516.7 274,516.7"/>
<polyline points="277,516.7 279.5,516.7 282,516.9"/>
<polyline points="285,517.1 287.5,517.3 290,517.5"/>
<polyline points="293,517.7 295.5,517.9 298,518.2"/>
<polyline points="301,518.4 303.5,518.6 306,518.9"/>
<polyline points="309,519.1 311.5,519.3 314,519.3"/>
<polyline points="317,519.4 319.5,519.4 322,519.4"/>
<polyline points="325,519.5 327.5,519.6 330,519.8"/>
<polyline points="333,520.2 335.5,520.5 338,520.7"/>
<polyline points="341,521.1 343.5,521.3 346,521.6"/>
<polyline points="349,521.8 351.5,522.0 354,522.3"/>
<polyline points="357,522.5 359.5,522.8 362,523.0"/>
<polyline points="365,523.3 367.5,523.5 370,523.8"/>
<polyline points="373,524.1 375.5,524.4 378,525.0"/>
<polyline points="381,525.8 383.5,526.4 386,526.7"/>
<polyline points="389,527.0 391.5,527.3 394,527.3"/>
<polyline points="397,527.3 399.5,527.3 402,527.3"/>
<polyline points="405,527.3 407.5,527.3 410,527.3"/>
<polyline points="413,527.3 415.5,527.2 418,526.5"/>
<polyline points="421,525.8 423.5,525.2 426,524.9"/>
<polyline points="429,524.5 431.5,524.2 434,523.9"/>
<polyline points="437,523.5 439.5,523.3 442,523.1"/>
<polyline points="445,522.9 447.5,522.8 450,522.6"/>
<polyline points="453,522.4 455.5,522.3 458,522.3"/>
<polyline points="461,522.3 463.5,522.3 466,522.3"/>
<polyline points="469,522.3 471.5,522.4 474,522.6"/>
<polyline points="477,522.9 479.5,523.2 482,524.0"/>
<polyline points="485,525.4 487.5,526.5 490,527.3"/>
<polyline points="493,528.3 495.5,529.1 498,529.9"/>
<polyline points="501,530.8 503.5,531.6 506,532.4"/>
<polyline points="509,533.4 511.5,534.1 514,534.5"/>
<polyline points="517,535.0 519.5,535.5 522,536.1"/>
<polyline points="525,536.9 527.5,537.5 530,537.8"/>
<polyline points="533,538.1 535.5,538.5 538,538.8"/>
<polyline points="541,539.1 543.5,539.5 546,539.8"/>
<polyline points="549,540.1 551.5,540.4 554,540.4"/>
<polyline points="557,540.4 559.5,540.4 562,540.4"/>
<polyline points="565,540.4 567.5,540.4 570,540.2"/>
<polyline points="573,540.0 575.5,539.9 578,539.7"/>
<polyline points="581,539.5 583.5,539.3 586,538.6"/>
<polyline points="589,537.9 591.5,537.3 594,536.6"/>
<polyline points="597,535.9 599.5,535.3 602,535.0"/>
<polyline points="605,534.6 607.5,534.3 610,533.6"/>
<polyline points="613,532.9 615.5,532.3 618,531.6"/>
<polyline points="621,530.9 623.5,530.3 626,529.6"/>
<polyline points="629,528.8 631.5,528.2 634,527.9"/>
<polyline points="637,527.5 639.5,527.2 642,526.9"/>
<polyline points="645,526.5 647.5,526.3 650,526.3"/>
<polyline points="653,526.3 655.5,526.3 658,526.3"/>
<polyline points="661,526.3 663.5,526.4 666,526.7"/>
<polyline points="669,527.0 671.5,527.3 674,527.5"/>
<polyline points="677,527.7 679.5,527.8 682,528.0"/>
<polyline points="685,528.2 687.5,528.3 690,528.5"/>
<polyline points="693,528.7 695.5,528.9 698,529.1"/>
<polyline points="701,529.3 703.5,529.4 706,529.4"/>
<polyline points="709,529.4 711.5,529.3 714,529.0"/>
<polyline points="717,528.6 719.5,528.3 722,528.3"/>
<polyline points="725,528.3 727.5,528.2 730,527.5"/>
<polyline points="733,526.8 735.5,526.2 738,525.5"/>
<polyline points="741,524.8 743.5,524.1 746,523.2"/>
<polyline points="749,522.0 751.5,521.2 754,520.5"/>
<polyline points="757,519.8 759.5,519.1 762,518.2"/>
<polyline points="765,517.0 767.5,516.1 770,515.2"/>
<polyline points="773,514.0 775.5,513.1 778,512.1"/>
<polyline points="781,511.0 783.5,510.0 786,509.1"/>
<polyline points="789,507.9 791.5,507.1 794,506.4"/>
<polyline points="797,505.7 799.5,505.1 802,504.4"/>
<polyline points="805,503.7 807.5,503.1 810,502.4"/>
<polyline points="813,501.7 815.5,501.1 818,500.4"/>
<polyline points="821,499.7 823.5,499.1 826,498.4"/>
<polyline points="829,497.6 831.5,496.9 834,496.0"/>
<polyline points="837,494.9 839.5,494.0 842,493.4"/>
<polyline points="845,492.6 847.5,492.0 850,491.4"/>
<polyline points="853,490.6 855.5,490.0 858,489.7"/>
<polyline points="861,489.4 863.5,489.2 866,489.5"/>
<polyline points="869,489.9 871.5,490.2 874,490.6"/>
<polyline points="877,491.1 879.5,491.7 882,492.5"/>
<polyline points="885,493.5 887.5,494.4 890,495.6"/>
<polyline points="893,497.2 895.5,498.5 898,500.1"/>
<polyline points="901,501.9 903.5,503.5 906,505.1"/>
<polyline points="909,506.9 911.5,508.5 914,510.1"/>
<polyline points="917,512.0 919.5,513.6 922,515.0"/>
<polyline points="925,516.8 927.5,518.1 930,519.4"/>
<polyline points="933,520.9 935.5,522.1 938,523.2"/>
<polyline points="941,524.4 943.5,525.5 946,526.4"/>
<polyline points="949,527.5 951.5,528.5 954,529.3"/>
<polyline points="957,530.3 959.5,531.1 962,531.8"/>
<polyline points="965,532.5 967.5,533.1 970,533.8"/>
<polyline points="973,534.5 975.5,535.1 978,535.8"/>
<polyline points="981,536.5 983.5,537.1 986,537.8"/>
<polyline points="989,538.5 991.5,539.2 994,540.1"/>
<polyline points="997,541.2 999.5,542.1 1002,542.9"/>
<polyline points="1005,543.8 1007.5,544.6 1010,545.4"/>
<polyline points="1013,546.4 1015.5,547.2 1018,547.9"/>
<polyline points="1021,548.9 1023.5,549.7 1026,550.5"/>
<polyline points="1029,551.5 1031.5,552.3 1034,553.2"/>
<polyline points="1037,554.4 1039.5,555.3 1042,556.4"/>
<polyline points="1045,557.6 1047.5,558.7 1050,559.8"/>
<polyline points="1053,561.1 1055.5,562.2 1058,563.2"/>
<polyline points="1061,564.4 1063.5,565.4 1066,566.3"/>
<polyline points="1069,567.5 1071.5,568.4 1074,569.5"/>
<polyline points="1077,570.8 1079.5,571.8 1082,572.6"/>
<polyline points="1085,573.6 1087.5,574.3 1090,575.0"/>
<polyline points="1093,575.8 1095.5,576.4 1098,577.0"/>
<polyline points="1101,577.8 1103.5,578.4 1106,578.7"/>
<polyline points="1109,579.0 1111.5,579.3 1114,579.6"/>
<polyline points="1117,579.8 1119.5,580.0 1122,579.7"/>
<polyline points="1125,579.5 1127.5,579.3 1130,579.1"/>
<polyline points="1133,578.9 1135.5,578.6 1138,578.2"/>
<polyline points="1141,577.6 1143.5,577.2 1146,576.5"/>
<polyline points="1149,575.7 1151.5,575.0 1154,574.2"/>
<polyline points="1157,573.2 1159.5,572.4 1162,571.3"/>
<polyline points="1165,570.1 1167.5,569.0 1170,568.0"/>
<polyline points="1173,566.8 1174.5,566.2 1176,566.0"/>
</g>
<g shape-rendering="crispEdges">
<line x1="8" x2="1194" y1="613.5" y2="613.5" stroke="#c0c0c0" stroke-dasharray="3 3"/>
<line x1="8" x2="1194" y1="642.5" y2="642.5" stroke="#c0c0c0" stroke-dasharray="3 3"/>
</g>
<polyline points="6.5,607.5 7.5,607.5 15.5,607.5 23.5,613.2 31.5,613.6 39.5,612.6 47.5,608.5 55.5,608.1 63.5,607.1 71.5,605.5 79.5,607.1 87.5,625.2 95.5,627.7 103.5,624.6 111.5,625.6 119.5,625.6 127.5,624.6 135.5,623.6 143.5,620.6 151.5,617.8 159.5,617.2 167.5,615.2 175.5,614.2 183.5,612.2 191.5,608.1 199.5,607.3 207.5,607.3 215.5,614.2 223.5,614.2 231.5,615.6 239.5,614.2 247.5,613.2 255.5,610.1 263.5,615.6 271.5,620.2 279.5,619.2 287.5,618.2 295.5,617.2 303.5,613.6 311.5,613.6 319.5,613.6 327.5,624.2 335.5,622.2 343.5,621.2 351.5,623.2 359.5,622.6 367.5,625.2 375.5,625.2 383.5,619.6 391.5,619.2 399.5,617.2 407.5,611.1 415.5,607.1 423.5,605.5 431.5,620.2 439.5,631.9 447.5,627.3 455.5,626.2 463.5,626.2 471.5,629.3 479.5,632.3 487.5,630.9 495.5,626.2 503.5,627.3 511.5,629.3 519.5,627.3 527.5,626.2 535.5,627.3 543.5,627.3 551.5,627.3 559.5,626.2 567.5,622.6 575.5,621.2 583.5,617.6 591.5,617.6 599.5,619.2 607.5,617.6 615.5,623.2 623.5,624.2 631.5,624.2 639.5,624.2 647.5,624.2 655.5,623.2 663.5,622.2 671.5,625.2 679.5,622.6 687.5,622.2 695.5,620.2 703.5,622.2 711.5,618.6 719.5,615.6 727.5,612.2 735.5,608.5 743.5,608.1 751.5,607.1 759.5,609.1 767.5,614.2 775.5,611.6 783.5,611.6 791.5,617.2 799.5,611.6 807.5,614.2 815.5,608.1 823.5,611.6 831.5,611.6 839.5,609.1 847.5,613.2 855.5,623.2 863.5,626.8 871.5,628.3 879.5,628.7 887.5,631.3 895.5,631.3 903.5,624.2 911.5,627.3 919.5,626.2 927.5,627.3 935.5,628.3 943.5,628.7 951.5,631.3 959.5,630.3 967.5,629.3 975.5,632.3 983.5,632.3 991.5,632.3 999.5,635.3 1007.5,637.3 1015.5,638.3 1023.5,638.3 1031.5,640.3 1039.5,643.0 1047.5,644.4 1055.5,644.4 1063.5,646.4 1071.5,645.4 1079.5,645.4 1087.5,645.4 1095.5,640.3 1103.5,643.4 1111.5,635.3 1119.5,635.3 1127.5,631.3 1135.5,631.3 1143.5,628.3 1151.5,625.8 1159.5,630.3 1167.5,629.3 1175.5,629.3" fill="none" stroke="#1e90ff" stroke-width="1" shape-rendering="crispEdges" clip-path="url(#c3)"/>
<g shape-rendering="crispEdges">
</g>
<text x="1200.3" y="11" textLength="32.3" lengthAdjust="spacingAndGlyphs">2080.70</text>
<text x="1200.3" y="44" textLength="32.3" lengthAdjust="spacingAndGlyphs">2062.70</text>
<text x="1200.3" y="77" textLength="32.3" lengthAdjust="spacingAndGlyphs">2044.70</text>
<text x="1200.3" y="110" textLength="32.3" lengthAdjust="spacingAndGlyphs">2026.70</text>
<text x="1200.3" y="143" textLength="32.3" lengthAdjust="spacingAndGlyphs">2008.70</text>
<text x="1200.3" y="176" textLength="32.3" lengthAdjust="spacingAndGlyphs">1990.70</text>
<text x="1200.3" y="209" textLength="32.3" lengthAdjust="spacingAndGlyphs">1972.20</text>
<text x="1200.3" y="242" textLength="32.3" lengthAdjust="spacingAndGlyphs">1954.20</text>
<text x="1200.3" y="275" textLength="32.3" lengthAdjust="spacingAndGlyphs">1936.20</text>
<text x="1200.3" y="308" textLength="32.3" lengthAdjust="spacingAndGlyphs">1918.20</text>
<text x="1200.3" y="341" textLength="32.3" lengthAdjust="spacingAndGlyphs">1900.20</text>
<text x="1200.3" y="374" textLength="32.3" lengthAdjust="spacingAndGlyphs">1882.20</text>
<text x="1200.3" y="407" textLength="32.3" lengthAdjust="spacingAndGlyphs">1864.20</text>
<text x="1200.3" y="440" textLength="32.3" lengthAdjust="spacingAndGlyphs">1846.20</text>
<text x="1200.3" y="473" textLength="32.3" lengthAdjust="spacingAndGlyphs">1828.20</text>
<g shape-rendering="crispEdges">
<rect x="1197" y="130" width="39" height="11" fill="#ff0000"/>
<rect x="1197" y="193" width="39" height="11" fill="#ff0000"/>
<rect x="1197" y="249" width="39" height="11" fill="#00cc00"/>
<rect x="1197" y="260" width="39" height="9" fill="#000"/>
<rect x="1197" y="304" width="39" height="11" fill="#3a50e0"/>
<rect x="1197" y="350" width="39" height="11" fill="#3a50e0"/>
<rect x="1197" y="395" width="39" height="11" fill="#3a50e0"/>
</g>
<text x="1200" y="139" class="w" textLength="32.5" lengthAdjust="spacingAndGlyphs">2010.00</text>
<text x="1200" y="202" class="w" textLength="32.5" lengthAdjust="spacingAndGlyphs">1975.50</text>
<text x="1200" y="258" class="w" textLength="32.5" lengthAdjust="spacingAndGlyphs">1945.00</text>
<text x="1200" y="267.5" class="w" textLength="32.5" lengthAdjust="spacingAndGlyphs">1940.98</text>
<text x="1200" y="313" class="w" textLength="32.5" lengthAdjust="spacingAndGlyphs">1915.00</text>
<text x="1200" y="359" class="w" textLength="32.5" lengthAdjust="spacingAndGlyphs">1890.00</text>
<text x="1200" y="404" class="w" textLength="32.5" lengthAdjust="spacingAndGlyphs">1865.00</text>
<text x="1197.8" y="485" textLength="22.2" lengthAdjust="spacingAndGlyphs">31.37</text>
<text x="1197.8" y="546" textLength="17.3" lengthAdjust="spacingAndGlyphs">0.00</text>
<text x="1197.8" y="585.5" textLength="30.9" lengthAdjust="spacingAndGlyphs">-21.154</text>
<text x="1198.4" y="601" textLength="13.8" lengthAdjust="spacingAndGlyphs">100</text>
<text x="1197" y="617" textLength="9.2" lengthAdjust="spacingAndGlyphs">70</text>
<text x="1197" y="646" textLength="9.2" lengthAdjust="spacingAndGlyphs">30</text>
<text x="1197.6" y="661" textLength="4.8" lengthAdjust="spacingAndGlyphs">0</text>
<text x="7" y="677" textLength="50.2" lengthAdjust="spacingAndGlyphs">11 Feb 2022</text>
<text x="71" y="677" textLength="52.7" lengthAdjust="spacingAndGlyphs">15 Feb 00:00</text>
<text x="135" y="677" textLength="52.7" lengthAdjust="spacingAndGlyphs">16 Feb 08:00</text>
<text x="199" y="677" textLength="52.7" lengthAdjust="spacingAndGlyphs">17 Feb 16:00</text>
<text x="263" y="677" textLength="52.7" lengthAdjust="spacingAndGlyphs">21 Feb 00:00</text>
<text x="327" y="677" textLength="52.7" lengthAdjust="spacingAndGlyphs">22 Feb 08:00</text>
<text x="391" y="677" textLength="52.7" lengthAdjust="spacingAndGlyphs">23 Feb 16:00</text>
<text x="455" y="677" textLength="52.7" lengthAdjust="spacingAndGlyphs">25 Feb 00:00</text>
<text x="519" y="677" textLength="52.7" lengthAdjust="spacingAndGlyphs">28 Feb 08:00</text>
<text x="583" y="677" textLength="47.7" lengthAdjust="spacingAndGlyphs">1 Mar 16:00</text>
<text x="647" y="677" textLength="47.7" lengthAdjust="spacingAndGlyphs">3 Mar 00:00</text>
<text x="711" y="677" textLength="47.7" lengthAdjust="spacingAndGlyphs">4 Mar 08:00</text>
<text x="775" y="677" textLength="47.7" lengthAdjust="spacingAndGlyphs">7 Mar 16:00</text>
<text x="839" y="677" textLength="47.7" lengthAdjust="spacingAndGlyphs">9 Mar 00:00</text>
<text x="903" y="677" textLength="52.7" lengthAdjust="spacingAndGlyphs">10 Mar 08:00</text>
<text x="967" y="677" textLength="52.7" lengthAdjust="spacingAndGlyphs">11 Mar 16:00</text>
<text x="1031" y="677" textLength="52.7" lengthAdjust="spacingAndGlyphs">15 Mar 00:00</text>
<text x="1095" y="677" textLength="52.7" lengthAdjust="spacingAndGlyphs">16 Mar 08:00</text>
<text x="1159" y="677" textLength="52.7" lengthAdjust="spacingAndGlyphs">17 Mar 16:00</text>
<path d="M10 10 L17.5 10 L13.75 14 Z" fill="#000"/>
<text x="22" y="15" textLength="203" lengthAdjust="spacingAndGlyphs">XAUUSD-,H4&#160; 1941.52 1942.52 1940.01 1940.98</text>
<text x="11" y="487" textLength="128.5" lengthAdjust="spacingAndGlyphs">MACD(12,26,9) -6.085 -11.283</text>
<text x="10.2" y="603" textLength="68" lengthAdjust="spacingAndGlyphs">RSI(14) 48.3529</text>
<text x="230.4" y="177.7" class="big">多空转折点<tspan font-size="36.2" dx="-2.2" dy="-0.5" font-weight="400" stroke="#fff" stroke-width="0.3" textLength="78.6" lengthAdjust="spacingAndGlyphs">1945</tspan></text>
</svg></body></html>
